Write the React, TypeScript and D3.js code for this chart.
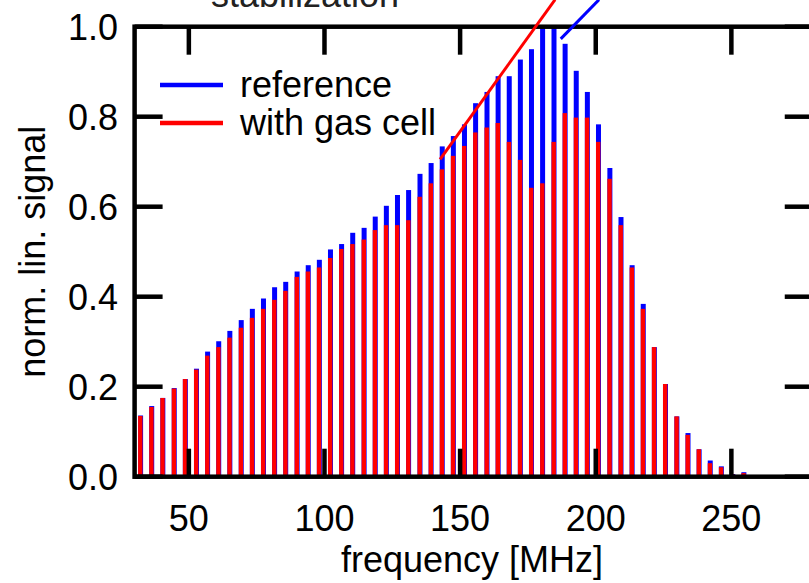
import React, { useEffect, useRef } from 'react';
import * as d3 from 'd3';

// frequencies of the beat notes [MHz]
const frequencies = [
  32.1, 36.2, 40.3, 44.5, 48.6, 52.7, 56.8, 60.9, 65.0, 69.2,
  73.3, 77.4, 81.5, 85.6, 89.8, 93.9, 98.0, 102.1, 106.2, 110.3,
  114.5, 118.6, 122.7, 126.8, 130.9, 135.1, 139.2, 143.3, 147.4, 151.5,
  155.6, 159.8, 163.9, 168.0, 172.1, 176.2, 180.3, 184.5, 188.6, 192.7,
  196.8, 200.9, 205.1, 209.2, 213.3, 217.4, 221.5, 225.6, 229.8, 233.9,
  238.0, 242.1, 246.2, 250.4, 254.5,
];

// normalized linear signal, reference (blue)
const reference = [
  0.136, 0.157, 0.175, 0.197, 0.217, 0.240, 0.278, 0.301, 0.324, 0.348,
  0.373, 0.396, 0.421, 0.433, 0.456, 0.470, 0.482, 0.505, 0.517, 0.542,
  0.553, 0.578, 0.602, 0.626, 0.637, 0.673, 0.697, 0.734, 0.757, 0.783,
  0.830, 0.855, 0.890, 0.890, 0.927, 0.950, 1.0, 1.0, 0.962, 0.902,
  0.855, 0.783, 0.686, 0.577, 0.470, 0.384, 0.288, 0.206, 0.134, 0.097,
  0.061, 0.036, 0.023, 0.006, 0.010,
];

// normalized linear signal, with gas cell (red)
const withGasCell = [
  0.135, 0.155, 0.175, 0.196, 0.217, 0.238, 0.269, 0.288, 0.309, 0.331,
  0.353, 0.373, 0.393, 0.413, 0.444, 0.456, 0.465, 0.486, 0.506, 0.517,
  0.527, 0.548, 0.559, 0.559, 0.570, 0.622, 0.652, 0.683, 0.713, 0.735,
  0.765, 0.776, 0.786, 0.744, 0.704, 0.642, 0.652, 0.744, 0.808, 0.798,
  0.798, 0.744, 0.662, 0.559, 0.465, 0.373, 0.288, 0.206, 0.134, 0.093,
  0.061, 0.030, 0.021, 0.005, 0.008,
];

const xTicks = [50, 100, 150, 200, 250];
const yTicks = [0, 0.2, 0.4, 0.6, 0.8, 1.0];

// annotation pointers from the (cut off) "stabilization" label, [freq, signal]
const redPointer = [[142.6, 0.705], [185.0, 1.06]];
const bluePointer = [[187.1, 0.973], [201.2, 1.06]];

const App = () => {
  const width = 809;
  const height = 583;
  const svgRef = useRef(null);

  useEffect(() => {
    const svg = d3.select(svgRef.current);
    svg.selectAll('*').remove();

    const font = 'Liberation Sans, Arial, Helvetica, sans-serif';

    const x = d3.scaleLinear().domain([30, 280]).range([134.6, 812.75]);
    const y = d3.scaleLinear().domain([0, 1]).range([476.7, 26.7]);

    const barW = 4.4;

    // reference bars (behind)
    svg
      .append('g')
      .selectAll('rect')
      .data(frequencies)
      .enter()
      .append('rect')
      .attr('x', (d) => x(d) - barW / 2)
      .attr('y', (d, i) => y(reference[i]))
      .attr('width', barW + 0.6)
      .attr('height', (d, i) => y(0) - y(reference[i]))
      .attr('fill', '#0000ff');

    // gas cell bars (front)
    svg
      .append('g')
      .selectAll('rect')
      .data(frequencies)
      .enter()
      .append('rect')
      .attr('x', (d) => x(d) - barW / 2)
      .attr('y', (d, i) => y(withGasCell[i]))
      .attr('width', barW)
      .attr('height', (d, i) => y(0) - y(withGasCell[i]))
      .attr('fill', '#ff0000');

    // frame
    const [x0, x1] = x.range();
    const [y0, y1] = y.range();
    svg
      .append('rect')
      .attr('x', x0)
      .attr('y', y1)
      .attr('width', x1 - x0)
      .attr('height', y0 - y1)
      .attr('fill', 'none')
      .attr('stroke', '#000')
      .attr('stroke-width', 4.5);

    const tickLen = 28;
    const ticks = svg.append('g').attr('stroke', '#000').attr('stroke-width', 4.5);
    xTicks.forEach((t) => {
      ticks.append('line').attr('x1', x(t)).attr('x2', x(t)).attr('y1', y0).attr('y2', y0 - tickLen);
      ticks.append('line').attr('x1', x(t)).attr('x2', x(t)).attr('y1', y1).attr('y2', y1 + tickLen);
    });
    yTicks.forEach((t) => {
      ticks.append('line').attr('x1', x0).attr('x2', x0 + tickLen).attr('y1', y(t)).attr('y2', y(t));
      ticks.append('line').attr('x1', x1).attr('x2', x1 - tickLen).attr('y1', y(t)).attr('y2', y(t));
    });

    // tick labels
    svg
      .append('g')
      .selectAll('text')
      .data(xTicks)
      .enter()
      .append('text')
      .attr('x', (d) => x(d))
      .attr('y', 531)
      .attr('text-anchor', 'middle')
      .style('font-family', font)
      .style('font-size', '36px')
      .text((d) => d);

    svg
      .append('g')
      .selectAll('text')
      .data(yTicks)
      .enter()
      .append('text')
      .attr('x', 118)
      .attr('y', (d) => y(d))
      .attr('dy', '0.36em')
      .attr('text-anchor', 'end')
      .style('font-family', font)
      .style('font-size', '36px')
      .text((d) => d3.format('.1f')(d));

    // axis titles
    svg
      .append('text')
      .attr('x', 472)
      .attr('y', 572)
      .attr('text-anchor', 'middle')
      .style('font-family', font)
      .style('font-size', '36px')
      .text('frequency [MHz]');

    svg
      .append('text')
      .attr('transform', `translate(45, ${(y0 + y1) / 2}) rotate(-90)`)
      .attr('text-anchor', 'middle')
      .style('font-family', font)
      .style('font-size', '36px')
      .text('norm. lin. signal');

    // cut-off annotation
    svg
      .append('text')
      .attr('x', 305)
      .attr('y', 7)
      .attr('text-anchor', 'middle')
      .style('font-family', font)
      .style('font-size', '36px')
      .style('fill', '#222')
      .text('stabilization');

    const line = d3
      .line()
      .x((d) => x(d[0]))
      .y((d) => y(d[1]));

    svg.append('path').attr('d', line(redPointer)).attr('stroke', '#ff0000').attr('stroke-width', 3).attr('fill', 'none');
    svg.append('path').attr('d', line(bluePointer)).attr('stroke', '#0000ff').attr('stroke-width', 3).attr('fill', 'none');

    // legend
    const legend = [
      { label: 'reference', color: '#0000ff', y: 85 },
      { label: 'with gas cell', color: '#ff0000', y: 123 },
    ];
    legend.forEach((l) => {
      svg
        .append('line')
        .attr('x1', 160)
        .attr('x2', 223)
        .attr('y1', l.y)
        .attr('y2', l.y)
        .attr('stroke', l.color)
        .attr('stroke-width', 4.3);
      svg
        .append('text')
        .attr('x', 240)
        .attr('y', l.y + 12)
        .style('font-family', font)
        .style('font-size', '36px')
        .text(l.label);
    });
  }, []);

  return (
    <svg
      ref={svgRef}
      width={width}
      height={height}
      style={{ position: 'absolute', left: 0, top: 0, background: '#fff' }}
    ></svg>
  );
};

export default App;
